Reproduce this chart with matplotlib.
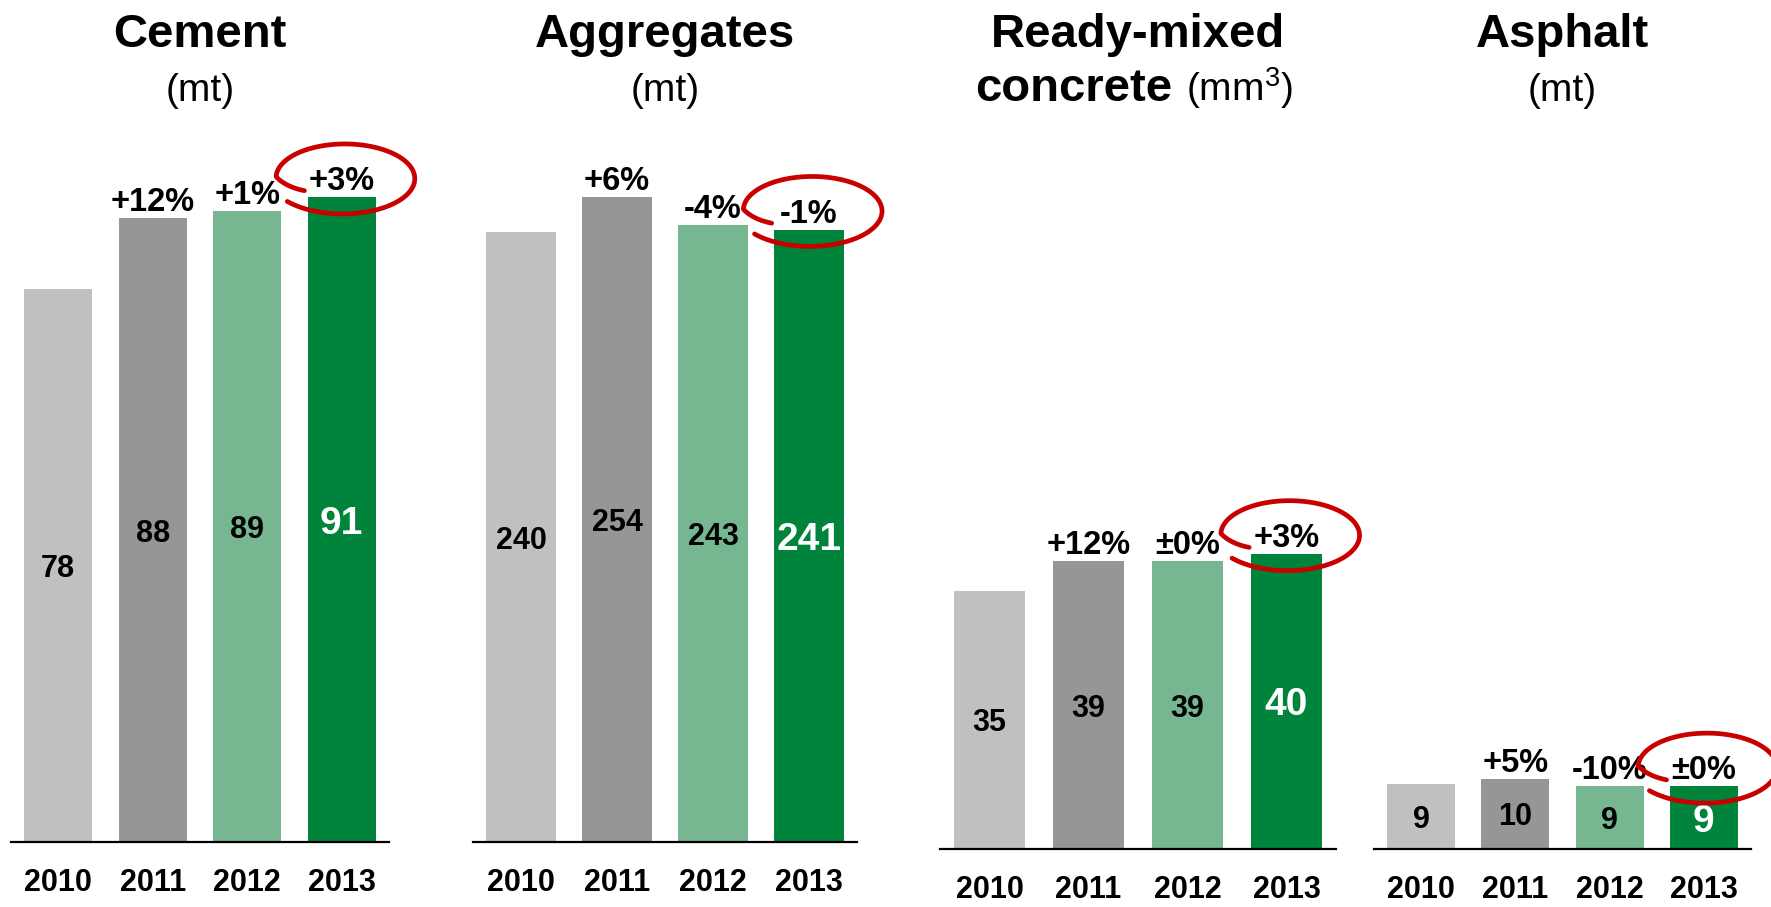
import numpy as np
import matplotlib
matplotlib.use("Agg")
import matplotlib.pyplot as plt
from matplotlib.transforms import ScaledTranslation, blended_transform_factory, offset_copy

plt.rcParams['font.family'] = ['Liberation Sans', 'DejaVu Sans']
plt.rcParams['mathtext.fontset'] = 'custom'
plt.rcParams['mathtext.rm'] = 'Liberation Sans'
plt.rcParams['mathtext.it'] = 'Liberation Sans:italic'
plt.rcParams['mathtext.bf'] = 'Liberation Sans:bold'

# ---------------- data ----------------
years = ['2010', '2011', '2012', '2013']

cement = [78, 88, 89, 91]
aggregates = [240, 254, 243, 241]
ready_mixed = [35, 39, 39, 40]
asphalt = [8.8, 9.5, 8.5, 8.5]

cement_labels = ['78', '88', '89', '91']
aggregates_labels = ['240', '254', '243', '241']
ready_mixed_labels = ['35', '39', '39', '40']
asphalt_labels = ['9', '10', '9', '9']

cement_chg = ['', '+12%', '+1%', '+3%']
aggregates_chg = ['', '+6%', '-4%', '-1%']
ready_mixed_chg = ['', '+12%', '\u00b10%', '+3%']
asphalt_chg = ['', '+5%', '-10%', '\u00b10%']

titles = ['Cement', 'Aggregates', 'Ready-mixed', 'Asphalt']
units = ['(mt)', '(mt)', r'(mm$\mathregular{^3}$)', '(mt)']

# ---------------- style ----------------
bar_colors = ['#C0C0C0', '#969696', '#76B792', '#00833A']
red = '#C80000'
W, H = 1771, 907

fig = plt.figure(figsize=(W / 100, H / 100), dpi=100)

# axes layout in pixels: (left, right, baseline_y_from_top, top_y_from_top), ylim top
layout = [
    (11, 389, 842, 100, 104.7),
    (473, 857, 842, 100, 292.0),
    (940, 1336, 849, 100, 101.5),
    (1374, 1751, 849, 100, 101.5),
]

panels = [
    (cement, cement_labels, cement_chg),
    (aggregates, aggregates_labels, aggregates_chg),
    (ready_mixed, ready_mixed_labels, ready_mixed_chg),
    (asphalt, asphalt_labels, asphalt_chg),
]

x = np.arange(len(years))

for i, ((vals, vlabels, chg), (l, r, base, top, ytop)) in enumerate(zip(panels, layout)):
    ax = fig.add_axes([l / W, (H - base) / H, (r - l) / W, (base - top) / H])
    ax.bar(x, vals, width=0.72, color=bar_colors, zorder=2)
    ax.set_xlim(-0.5, 3.5)
    ax.set_ylim(0, ytop)
    for s in ['top', 'left', 'right']:
        ax.spines[s].set_visible(False)
    ax.spines['bottom'].set_linewidth(1.6)
    ax.spines['bottom'].set_color('black')
    ax.set_yticks([])
    ax.set_xticks(x)
    ax.set_xticklabels(years, fontsize=22, fontweight='bold')
    ax.tick_params(axis='x', length=0, pad=19)

    # value labels inside bars
    for j, (v, lab) in enumerate(zip(vals, vlabels)):
        last = j == len(vals) - 1
        ax.text(x[j], v / 2, lab, ha='center', va='center_baseline',
                fontsize=28 if last else 22, fontweight='bold',
                color='white' if last else 'black', zorder=3)

    # change labels above bars
    for j, (v, c) in enumerate(zip(vals, chg)):
        if c:
            ax.annotate(c, xy=(x[j], v), xytext=(0, 5), textcoords='offset points',
                        ha='center', va='baseline', fontsize=23.5, fontweight='bold',
                        annotation_clip=False, zorder=4)

    # hand-drawn red loop around last change label
    trans = fig.dpi_scale_trans + ScaledTranslation(x[-1], vals[-1], ax.transData)
    s = np.linspace(0, 1, 300)
    t = np.deg2rad(213 - 353 * s)
    rr = 1 + 0.1 * s - 0.3 * np.clip(1 - s / 0.1, 0, 1)
    cx, cy, a, b = 0.02, 0.19, 0.67, 0.33
    ax.plot(cx + a * rr * np.cos(t), cy + b * rr * np.sin(t), transform=trans,
            color=red, lw=3.4, clip_on=False, solid_capstyle='round', zorder=5)

    # titles
    bt = blended_transform_factory(ax.transAxes, fig.transFigure)
    y1 = 1 - 47 / H
    y2 = 1 - 101 / H
    ax.text(0.5, y1, titles[i], transform=bt, ha='center', va='baseline',
            fontsize=34, fontweight='bold')
    if i == 2:
        ax.text(0.5, y2, 'concrete', ha='right', va='baseline', fontsize=34, fontweight='bold',
                transform=offset_copy(bt, fig=fig, x=34, y=0, units='dots'))
        ax.text(0.5, y2, units[i], ha='left', va='baseline', fontsize=28,
                transform=offset_copy(bt, fig=fig, x=48, y=0, units='dots'))
    else:
        ax.text(0.5, y2, units[i], transform=bt, ha='center', va='baseline', fontsize=28)

fig.savefig('out.png', dpi=100, facecolor='white')
